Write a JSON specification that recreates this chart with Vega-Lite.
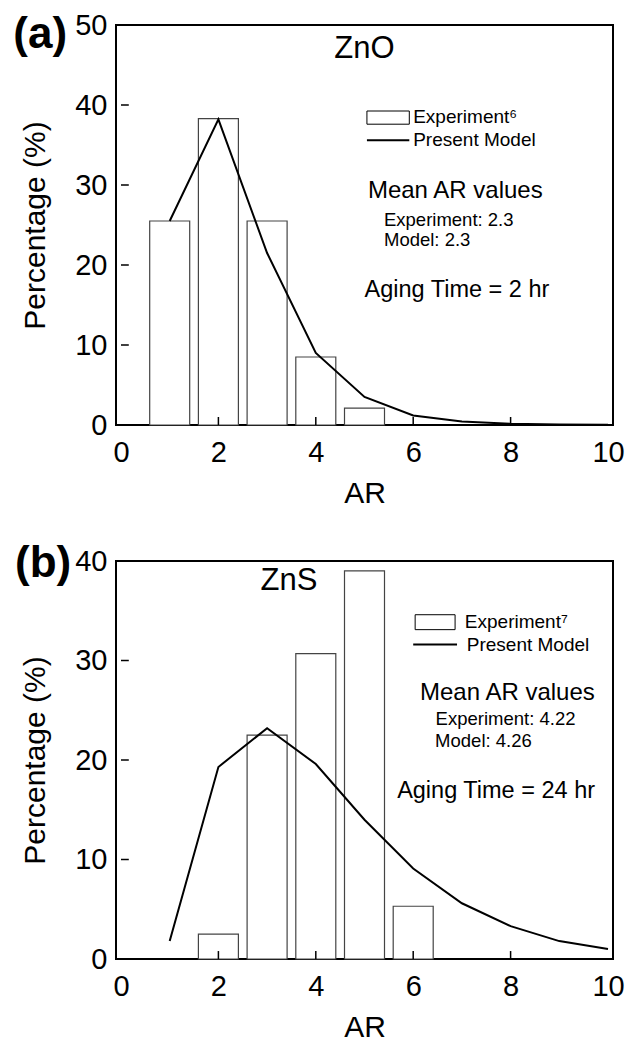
{
  "$schema": "https://vega.github.io/schema/vega-lite/v6.json",
  "padding": {"left": 12, "top": 10, "right": 0, "bottom": 0},
  "background": "white",
  "datasets": {
    "zno_exp": [{"AR": 1, "pct": 25.5}, {"AR": 2, "pct": 38.3}, {"AR": 3, "pct": 25.5}, {"AR": 4, "pct": 8.5}, {"AR": 5, "pct": 2.1}],
    "zno_model": [{"AR": 1, "pct": 25.5}, {"AR": 2, "pct": 38.2}, {"AR": 3, "pct": 21.5}, {"AR": 4, "pct": 9.0}, {"AR": 5, "pct": 3.5}, {"AR": 6, "pct": 1.2}, {"AR": 7, "pct": 0.45}, {"AR": 8, "pct": 0.15}, {"AR": 9, "pct": 0.05}, {"AR": 10, "pct": 0.02}],
    "zns_exp": [{"AR": 2, "pct": 2.5}, {"AR": 3, "pct": 22.5}, {"AR": 4, "pct": 30.7}, {"AR": 5, "pct": 39.0}, {"AR": 6, "pct": 5.3}],
    "zns_model": [{"AR": 1, "pct": 1.8}, {"AR": 2, "pct": 19.3}, {"AR": 3, "pct": 23.2}, {"AR": 4, "pct": 19.6}, {"AR": 5, "pct": 14.0}, {"AR": 6, "pct": 9.1}, {"AR": 7, "pct": 5.6}, {"AR": 8, "pct": 3.3}, {"AR": 9, "pct": 1.8}, {"AR": 10, "pct": 1.0}],
    "xticks": [{"AR": 2}, {"AR": 4}, {"AR": 6}, {"AR": 8}],
    "yticks_a": [{"pct": 10}, {"pct": 20}, {"pct": 30}, {"pct": 40}],
    "yticks_b": [{"pct": 10}, {"pct": 20}, {"pct": 30}],
    "one": [{}]
  },
  "vconcat": [
    {
      "width": 497,
      "height": 400,
      "layer": [
        {
          "data": {"name": "zno_exp"},
          "mark": {"type": "bar", "width": 40, "fill": "white", "stroke": "#444444", "strokeWidth": 1.2},
          "encoding": {
            "x": {"field": "AR", "type": "quantitative", "scale": {"domain": [0, 10], "nice": false}, "axis": {"values": [0, 2, 4, 6, 8, 10], "title": "AR"}},
            "y": {"field": "pct", "type": "quantitative", "scale": {"domain": [0, 50], "nice": false}, "axis": {"values": [0, 10, 20, 30, 40, 50], "title": "Percentage (%)"}}
          }
        },
        {
          "data": {"name": "zno_model"},
          "mark": {"type": "line", "color": "black", "strokeWidth": 2},
          "encoding": {"x": {"field": "AR", "type": "quantitative"}, "y": {"field": "pct", "type": "quantitative"}}
        },
        {
          "data": {"name": "xticks"},
          "mark": {"type": "rule", "color": "black", "strokeWidth": 1.5},
          "encoding": {"x": {"field": "AR", "type": "quantitative"}, "y": {"datum": 0}, "y2": {"datum": 1}}
        },
        {
          "data": {"name": "yticks_a"},
          "mark": {"type": "rule", "color": "black", "strokeWidth": 1.5},
          "encoding": {"y": {"field": "pct", "type": "quantitative"}, "x": {"datum": 0}, "x2": {"datum": 0.16}}
        },
        {"data": {"name": "one"}, "mark": {"type": "text", "text": "(a)", "fontSize": 44, "fontWeight": "bold", "align": "center", "baseline": "middle"}, "encoding": {"x": {"datum": -1.66}, "y": {"datum": 48.75}}},
        {"data": {"name": "one"}, "mark": {"type": "text", "text": "ZnO", "fontSize": 31, "align": "center", "baseline": "middle"}, "encoding": {"x": {"datum": 5.0}, "y": {"datum": 47.0}}},
        {"data": {"name": "one"}, "mark": {"type": "rect", "fill": "white", "stroke": "black", "strokeWidth": 1}, "encoding": {"x": {"datum": 5.05}, "x2": {"datum": 5.92}, "y": {"datum": 39.25}, "y2": {"datum": 37.6}}},
        {"data": {"name": "one"}, "mark": {"type": "text", "text": "Experiment⁶", "fontSize": 19, "align": "left", "baseline": "middle"}, "encoding": {"x": {"datum": 6.0}, "y": {"datum": 38.5}}},
        {"data": {"name": "one"}, "mark": {"type": "rule", "color": "black", "strokeWidth": 2}, "encoding": {"x": {"datum": 5.05}, "x2": {"datum": 5.92}, "y": {"datum": 35.6}}},
        {"data": {"name": "one"}, "mark": {"type": "text", "text": "Present Model", "fontSize": 19, "align": "left", "baseline": "middle"}, "encoding": {"x": {"datum": 6.0}, "y": {"datum": 35.6}}},
        {"data": {"name": "one"}, "mark": {"type": "text", "text": "Mean AR values", "fontSize": 24, "align": "left", "baseline": "middle"}, "encoding": {"x": {"datum": 5.07}, "y": {"datum": 29.2}}},
        {"data": {"name": "one"}, "mark": {"type": "text", "text": "Experiment: 2.3", "fontSize": 18.5, "align": "left", "baseline": "middle"}, "encoding": {"x": {"datum": 5.4}, "y": {"datum": 25.6}}},
        {"data": {"name": "one"}, "mark": {"type": "text", "text": "Model: 2.3", "fontSize": 18.5, "align": "left", "baseline": "middle"}, "encoding": {"x": {"datum": 5.4}, "y": {"datum": 23.1}}},
        {"data": {"name": "one"}, "mark": {"type": "text", "text": "Aging Time = 2 hr", "fontSize": 23.5, "align": "left", "baseline": "middle"}, "encoding": {"x": {"datum": 5.0}, "y": {"datum": 16.9}}}
      ]
    },
    {
      "width": 497,
      "height": 398,
      "layer": [
        {
          "data": {"name": "zns_exp"},
          "mark": {"type": "bar", "width": 40, "fill": "white", "stroke": "#444444", "strokeWidth": 1.2},
          "encoding": {
            "x": {"field": "AR", "type": "quantitative", "scale": {"domain": [0, 10], "nice": false}, "axis": {"values": [0, 2, 4, 6, 8, 10], "title": "AR"}},
            "y": {"field": "pct", "type": "quantitative", "scale": {"domain": [0, 40], "nice": false}, "axis": {"values": [0, 10, 20, 30, 40], "title": "Percentage (%)"}}
          }
        },
        {
          "data": {"name": "zns_model"},
          "mark": {"type": "line", "color": "black", "strokeWidth": 2},
          "encoding": {"x": {"field": "AR", "type": "quantitative"}, "y": {"field": "pct", "type": "quantitative"}}
        },
        {
          "data": {"name": "xticks"},
          "mark": {"type": "rule", "color": "black", "strokeWidth": 1.5},
          "encoding": {"x": {"field": "AR", "type": "quantitative"}, "y": {"datum": 0}, "y2": {"datum": 0.8}}
        },
        {
          "data": {"name": "yticks_b"},
          "mark": {"type": "rule", "color": "black", "strokeWidth": 1.5},
          "encoding": {"y": {"field": "pct", "type": "quantitative"}, "x": {"datum": 0}, "x2": {"datum": 0.16}}
        },
        {"data": {"name": "one"}, "mark": {"type": "text", "text": "(b)", "fontSize": 44, "fontWeight": "bold", "align": "center", "baseline": "middle"}, "encoding": {"x": {"datum": -1.6}, "y": {"datum": 39.7}}},
        {"data": {"name": "one"}, "mark": {"type": "text", "text": "ZnS", "fontSize": 31, "align": "center", "baseline": "middle"}, "encoding": {"x": {"datum": 3.45}, "y": {"datum": 38.0}}},
        {"data": {"name": "one"}, "mark": {"type": "rect", "fill": "white", "stroke": "black", "strokeWidth": 1}, "encoding": {"x": {"datum": 6.04}, "x2": {"datum": 6.86}, "y": {"datum": 34.6}, "y2": {"datum": 33.1}}},
        {"data": {"name": "one"}, "mark": {"type": "text", "text": "Experiment⁷", "fontSize": 19, "align": "left", "baseline": "middle"}, "encoding": {"x": {"datum": 7.06}, "y": {"datum": 33.9}}},
        {"data": {"name": "one"}, "mark": {"type": "rule", "color": "black", "strokeWidth": 2}, "encoding": {"x": {"datum": 6.0}, "x2": {"datum": 6.9}, "y": {"datum": 31.6}}},
        {"data": {"name": "one"}, "mark": {"type": "text", "text": "Present Model", "fontSize": 19, "align": "left", "baseline": "middle"}, "encoding": {"x": {"datum": 7.1}, "y": {"datum": 31.6}}},
        {"data": {"name": "one"}, "mark": {"type": "text", "text": "Mean AR values", "fontSize": 24, "align": "left", "baseline": "middle"}, "encoding": {"x": {"datum": 6.14}, "y": {"datum": 26.7}}},
        {"data": {"name": "one"}, "mark": {"type": "text", "text": "Experiment: 4.22", "fontSize": 18.5, "align": "left", "baseline": "middle"}, "encoding": {"x": {"datum": 6.46}, "y": {"datum": 24.1}}},
        {"data": {"name": "one"}, "mark": {"type": "text", "text": "Model: 4.26", "fontSize": 18.5, "align": "left", "baseline": "middle"}, "encoding": {"x": {"datum": 6.45}, "y": {"datum": 21.9}}},
        {"data": {"name": "one"}, "mark": {"type": "text", "text": "Aging Time = 24 hr", "fontSize": 23.5, "align": "left", "baseline": "middle"}, "encoding": {"x": {"datum": 5.67}, "y": {"datum": 16.9}}}
      ]
    }
  ],
  "spacing": 136,
  "bounds": "flush",
  "config": {
    "font": "Liberation Sans",
    "view": {"stroke": "black", "strokeWidth": 2},
    "text": {"font": "Liberation Sans", "color": "black"},
    "axis": {
      "domain": false, "ticks": false,
      "labelFont": "Liberation Sans", "labelFontSize": 29, "labelColor": "black",
      "labelFlush": false, "labelOverlap": false,
      "titleFont": "Liberation Sans", "titleFontSize": 30, "titleFontWeight": "normal", "titleColor": "black",
      "grid": false
    },
    "axisX": {"titlePadding": 11, "labelPadding": 13},
    "axisY": {"titlePadding": 24, "labelPadding": 9}
  }
}
